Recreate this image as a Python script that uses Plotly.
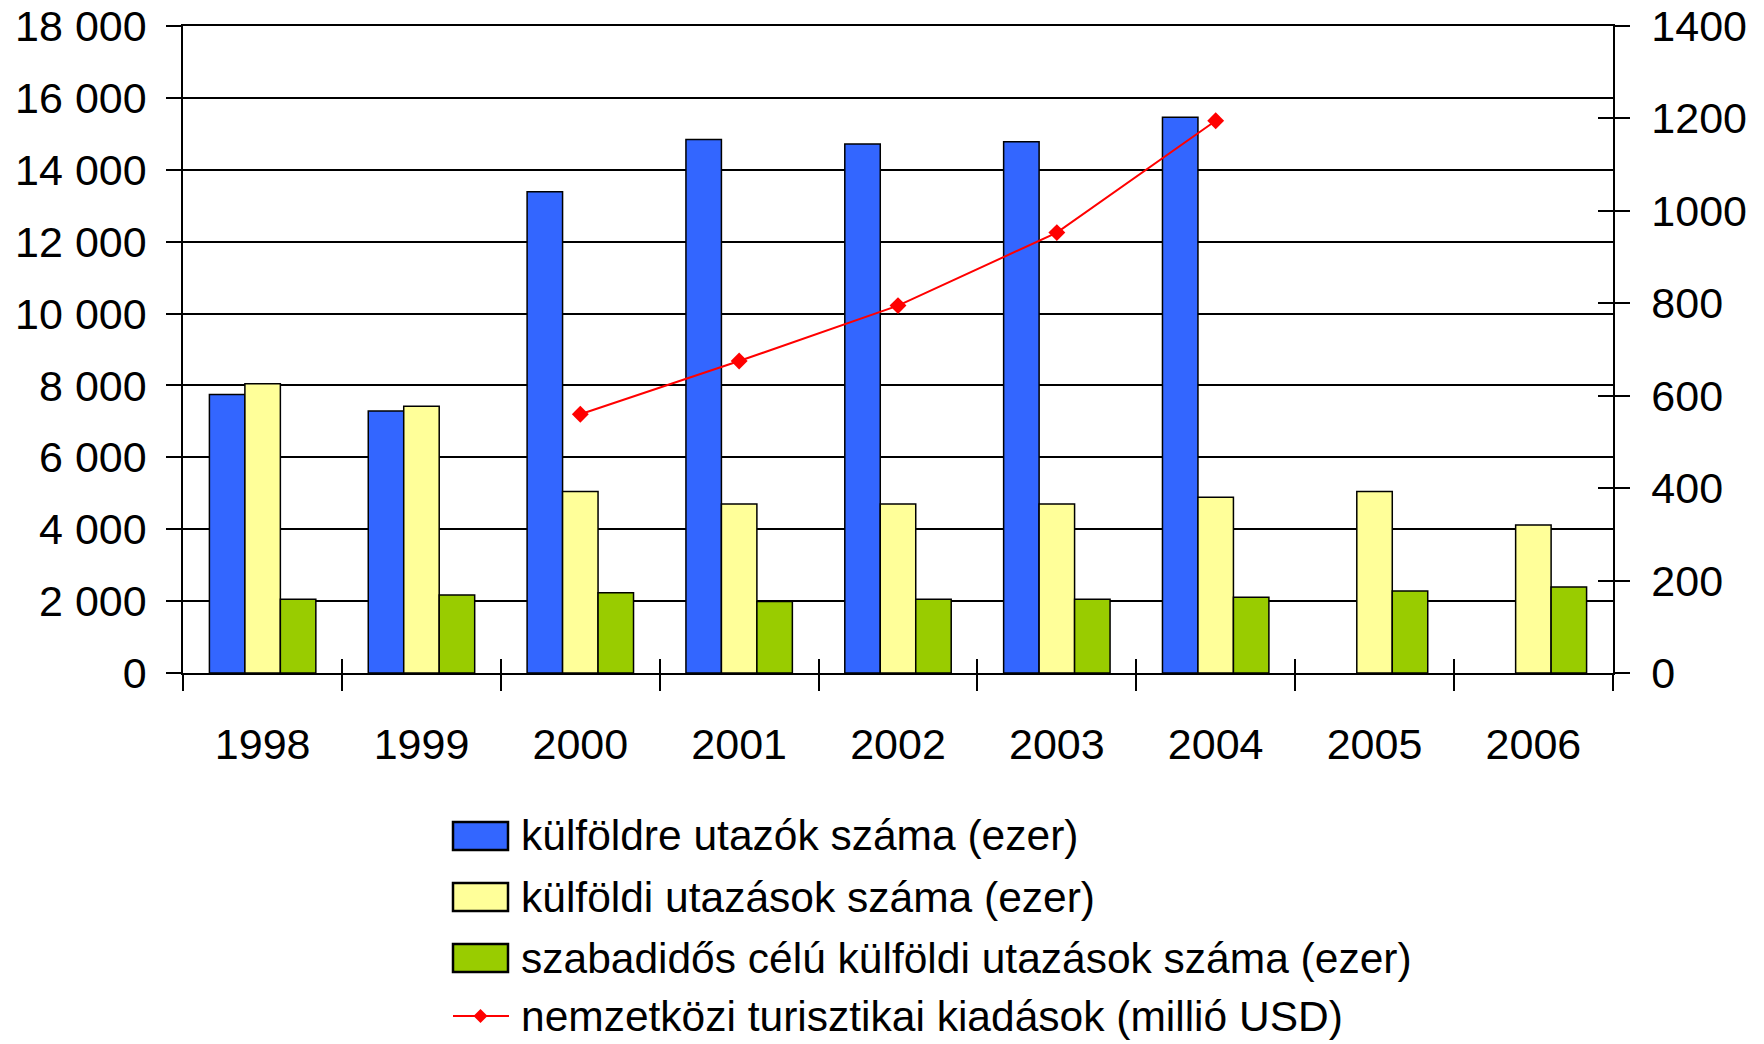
import plotly.graph_objects as go

years = ["1998", "1999", "2000", "2001", "2002", "2003", "2004", "2005", "2006"]
travellers = [7750, 7290, 13390, 14840, 14720, 14780, 15460, None, None]
trips = [8050, 7420, 5050, 4700, 4700, 4700, 4890, 5050, 4120]
leisure_trips = [2050, 2170, 2230, 1990, 2050, 2050, 2110, 2280, 2390]
spending = [None, None, 560, 675, 795, 953, 1195, None, None]

names = [
    "külföldre utazók száma (ezer)",
    "külföldi utazások száma (ezer)",
    "szabadidős célú külföldi utazások száma (ezer)",
    "nemzetközi turisztikai kiadások (millió USD)",
]
bar_colors = ["#3366FF", "#FFFF99", "#99CC00"]
line_color = "#FF0000"

FONT = "Liberation Sans, Arial, sans-serif"
W, H = 1764, 1044
L, R, T, B = 183, 151, 26, 371
PW, PH = W - L - R, H - T - B


def px_x(px):
    return (px - L) / PW


def px_y(py):
    return (H - B - py) / PH


fig = go.Figure()
for vals, name, color in zip([travellers, trips, leisure_trips], names[:3], bar_colors):
    fig.add_trace(go.Bar(x=years, y=vals, name=name,
                         marker=dict(color=color, line=dict(color="black", width=1.5))))

fig.add_trace(go.Scatter(x=years, y=spending, name=names[3], yaxis="y2",
                         mode="lines+markers", connectgaps=False,
                         line=dict(color=line_color, width=2),
                         marker=dict(symbol="diamond", size=13, color=line_color)))

# helper traces so overlay tick axes render
fig.add_trace(go.Scatter(x=[0], y=[None], xaxis="x2", yaxis="y", showlegend=False,
                         hoverinfo="skip"))
fig.add_trace(go.Scatter(x=[years[0]], y=[None], xaxis="x", yaxis="y3", showlegend=False,
                         hoverinfo="skip"))

# custom legend (layout decoration)
shapes = []
annotations = []
row_y = [836.0, 897.0, 958.0, 1016.0]
sym_x0, sym_x1, text_x = 453, 508, 520
for i in range(3):
    yc = row_y[i]
    shapes.append(dict(type="rect", xref="paper", yref="paper",
                       x0=px_x(sym_x0), x1=px_x(sym_x1),
                       y0=px_y(yc + 14), y1=px_y(yc - 14),
                       fillcolor=bar_colors[i], line=dict(color="black", width=2.5)))
yc = row_y[3]
shapes.append(dict(type="line", xref="paper", yref="paper",
                   x0=px_x(sym_x0), x1=px_x(sym_x1 + 1), y0=px_y(yc), y1=px_y(yc),
                   line=dict(color=line_color, width=2)))
cx, d = (sym_x0 + sym_x1) / 2, 7
shapes.append(dict(type="path", xref="paper", yref="paper",
                   path=(f"M {px_x(cx - d)},{px_y(yc)} L {px_x(cx)},{px_y(yc - d)} "
                         f"L {px_x(cx + d)},{px_y(yc)} L {px_x(cx)},{px_y(yc + d)} Z"),
                   fillcolor=line_color, line=dict(color=line_color, width=0)))
for i, name in enumerate(names):
    annotations.append(dict(text=name, xref="paper", yref="paper", x=px_x(text_x),
                            y=px_y(row_y[i]), xanchor="left", yanchor="middle",
                            showarrow=False, borderpad=0,
                            font=dict(size=42.5, color="black", family=FONT)))

fig.update_layout(
    width=W, height=H,
    margin=dict(l=L, r=R, t=T, b=B, autoexpand=False),
    paper_bgcolor="white", plot_bgcolor="white",
    font=dict(family=FONT, size=43, color="black"),
    separators=". ",
    barmode="group", bargap=0.33, bargroupgap=0,
    showlegend=False,
    xaxis=dict(type="category", tickson="boundaries", ticks="outside", ticklen=16,
               tickwidth=1.5, tickcolor="black", showline=True, linecolor="black",
               linewidth=1.5, mirror=True, showgrid=False, ticklabelstandoff=33,
               automargin=False),
    xaxis2=dict(overlaying="x", range=[-0.5, 8.5], tickmode="linear", tick0=-0.5, dtick=1,
                ticks="inside", ticklen=14, tickwidth=1.5, tickcolor="black",
                showticklabels=False, showgrid=False, showline=False, zeroline=False,
                anchor="y"),
    yaxis=dict(range=[0, 18000], dtick=2000, tickformat=",d", ticks="outside", ticklen=15,
               tickwidth=1.5, tickcolor="black", showline=True, linecolor="black",
               linewidth=1.5, showgrid=True, gridcolor="black", gridwidth=1.5,
               zeroline=False, ticklabelstandoff=11, automargin=False),
    yaxis2=dict(overlaying="y", side="right", range=[0, 1400], dtick=200, tickformat="d",
                ticks="outside", ticklen=15, tickwidth=1.5, tickcolor="black",
                showline=True, linecolor="black", linewidth=1.5, showgrid=False,
                zeroline=False, ticklabelstandoff=13, automargin=False),
    yaxis3=dict(overlaying="y", side="right", range=[0, 1400], dtick=200,
                ticks="inside", ticklen=15, tickwidth=1.5, tickcolor="black",
                showticklabels=False, showline=False, showgrid=False, zeroline=False,
                anchor="x"),
    shapes=shapes,
    annotations=annotations,
)

fig.write_html("out.html", config={"displayModeBar": False},
               post_script="document.body.style.margin='0px';document.body.style.overflow='hidden';")
